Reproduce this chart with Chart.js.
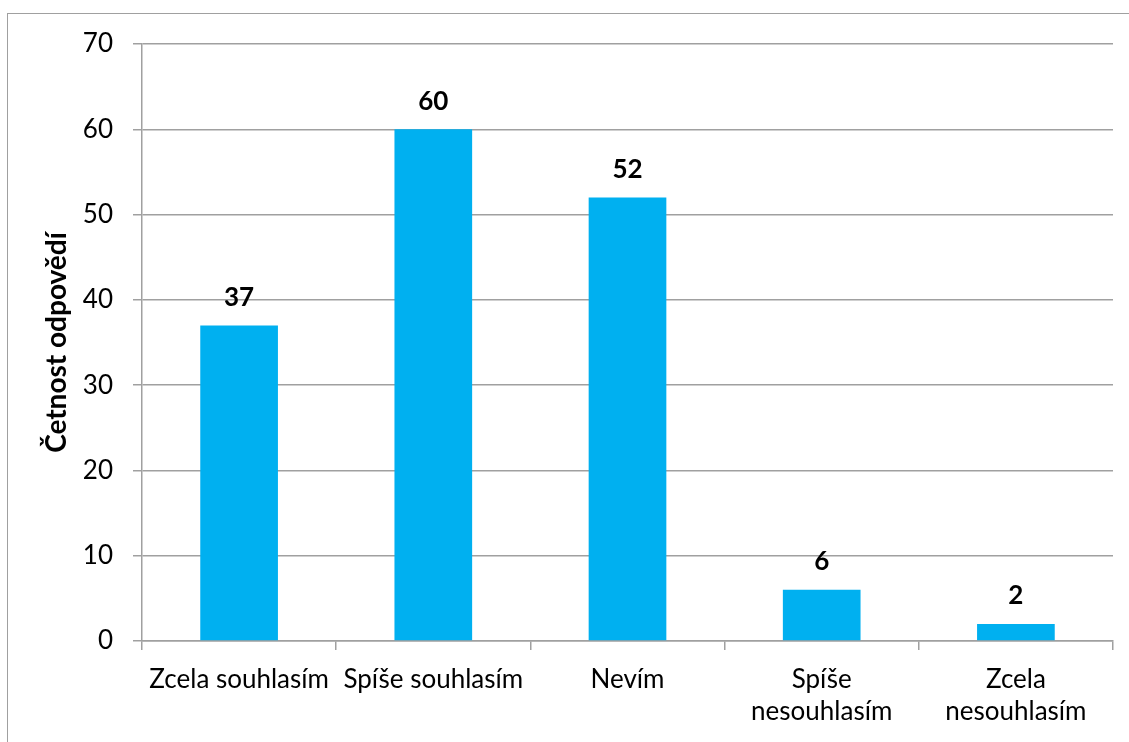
<!DOCTYPE html>
<html>
<head>
<meta charset="utf-8">
<script src="https://cdn.jsdelivr.net/npm/chart.js@4.4.0/dist/chart.umd.min.js"></script>
<style>
  html, body { margin: 0; padding: 0; background: #fff; overflow: hidden; }
  #frame { position: absolute; left: 7px; top: 13px; width: 1300px; height: 900px; border: 1px solid #a0a0a0; }
  #wrap { position: absolute; left: 0; top: 0; width: 1129px; height: 742px; }
</style>
</head>
<body>
<div id="frame"></div>
<div id="wrap"><canvas id="c" width="1129" height="742"></canvas></div>
<script>
const categories = ["Zcela souhlasím", "Spíše souhlasím", "Nevím", ["Spíše", "nesouhlasím"], ["Zcela", "nesouhlasím"]];
const values = [37, 60, 52, 6, 2];
const yTitle = "Četnost odpovědí";

const FONT = "Lato, 'Liberation Sans', sans-serif";
const GRID = "#a0a0a0";

const valueLabels = {
  id: "valueLabels",
  afterDatasetsDraw(chart) {
    const ctx = chart.ctx;
    const meta = chart.getDatasetMeta(0);
    ctx.save();
    ctx.font = "bold 26px " + FONT;
    ctx.fillStyle = "#000";
    ctx.textAlign = "center";
    ctx.textBaseline = "middle";
    meta.data.forEach((bar, i) => {
      ctx.fillText(String(values[i]), bar.x, bar.y - 28);
    });
    ctx.restore();
  }
};

new Chart(document.getElementById("c"), {
  type: "bar",
  data: {
    labels: categories,
    datasets: [{
      data: values,
      backgroundColor: "#00B0F0",
      borderWidth: 0,
      categoryPercentage: 1,
      barPercentage: 0.4
    }]
  },
  options: {
    responsive: false,
    animation: false,
    devicePixelRatio: 1,
    layout: { padding: { top: 44, right: 16, left: 40, bottom: 0 } },
    plugins: { legend: { display: false }, tooltip: { enabled: false } },
    scales: {
      x: {
        grid: { offset: true, drawOnChartArea: false, drawTicks: true, tickLength: 9, color: GRID, lineWidth: 1.5 },
        border: { color: GRID, width: 1.5 },
        ticks: { color: "#000", font: { family: FONT, size: 26, lineHeight: 1.23 }, padding: 14, maxRotation: 0, autoSkip: false },
        afterFit(scale) { scale.height = 101; }
      },
      y: {
        min: 0, max: 70,
        ticks: { stepSize: 10, color: "#000", font: { family: FONT, size: 26 }, padding: 20 },
        grid: { color: GRID, lineWidth: 1.5, tickLength: 9, drawTicks: true },
        border: { color: GRID, width: 1.5 },
        title: { display: true, text: yTitle, color: "#000", font: { family: FONT, size: 28, weight: "bold" }, padding: { top: 0, bottom: 0 } },
        afterFit(scale) { scale.width = 102; }
      }
    }
  },
  plugins: [valueLabels]
});
</script>
</body>
</html>
